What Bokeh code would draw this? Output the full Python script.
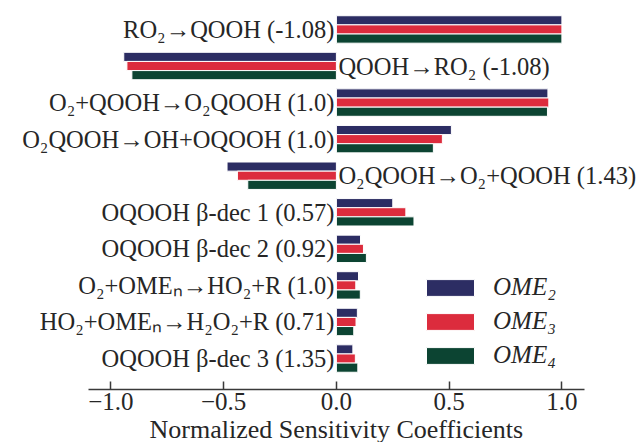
from bokeh.plotting import figure
from bokeh.models import Range1d, FixedTicker, ColumnDataSource, Legend, LegendItem, Title
from bokeh.core.properties import value
from bokeh.embed import file_html
from bokeh.resources import INLINE

# ---- data ----
reactions = [
    "RO₂→QOOH (-1.08)",
    "QOOH→RO₂ (-1.08)",
    "O₂+QOOH→O₂QOOH (1.0)",
    "O₂QOOH→OH+OQOOH (1.0)",
    "O₂QOOH→O₂+QOOH (1.43)",
    "OQOOH β-dec 1 (0.57)",
    "OQOOH β-dec 2 (0.92)",
    "O₂+OMEₙ→HO₂+R (1.0)",
    "HO₂+OMEₙ→H₂O₂+R (0.71)",
    "OQOOH β-dec 3 (1.35)",
]
ome2 = [1.0, -0.943, 0.938, 0.51, -0.485, 0.25, 0.107, 0.098, 0.093, 0.073]
ome3 = [1.0, -0.929, 0.942, 0.47, -0.439, 0.308, 0.12, 0.086, 0.087, 0.084]
ome4 = [1.0, -0.907, 0.936, 0.43, -0.393, 0.344, 0.133, 0.106, 0.077, 0.095]
series_names = ["OME₂", "OME₃", "OME₄"]
series_colors = ["#2c2d63", "#dc2c3d", "#0c4432"]
tick_values = [-1.0, -0.5, 0.0, 0.5, 1.0]
tick_labels = ["−1.0", "−0.5", "0.0", "0.5", "1.0"]
x_label = "Normalized Sensitivity Coefficients"

FONT = "Liberation Serif"
TEXT = "#262626"

p = figure(
    frame_width=644, frame_height=389,
    x_range=Range1d(-1.4896, 1.3663),
    y_range=Range1d(9.847, -0.792),
    y_axis_location=None,
    output_backend="svg", toolbar_location=None,
    min_border_left=0, min_border_right=0, min_border_top=0, min_border_bottom=0,
)
p.outline_line_color = None
p.xgrid.visible = False
p.ygrid.visible = False
p.background_fill_color = "white"

idx = list(range(len(reactions)))
offsets = [-0.25, 0.0, 0.25]
renderers = []
for vals, off, col in zip([ome2, ome3, ome4], offsets, series_colors):
    src = ColumnDataSource(dict(y=[i + off for i in idx], right=vals))
    r = p.hbar(y="y", left=0, right="right", height=0.25, source=src,
               fill_color=col, line_color="white", line_width=1)
    renderers.append(r)

# labels next to the zero line, on the opposite side of the bars
aligns = ["right" if v >= 0 else "left" for v in ome2]
xoffs = [-2 if v >= 0 else 2 for v in ome2]
lsrc = ColumnDataSource(dict(x=[0] * len(idx), y=idx, text=reactions,
                             align=aligns, xoff=xoffs))
p.text(x="x", y="y", text="text", source=lsrc, text_align="align",
       x_offset="xoff", text_baseline="middle",
       text_font=value(FONT), text_font_size="24.5px", text_color=TEXT)

ax = p.xaxis[0]
ax.bounds = (-1.1, 1.1)
ax.ticker = FixedTicker(ticks=tick_values)
ax.major_label_overrides = {v: l for v, l in zip(tick_values, tick_labels)}
ax.minor_tick_line_color = None
ax.major_tick_in = 8
ax.major_tick_out = 0
ax.major_tick_line_color = "#3a3a3a"
ax.major_tick_line_width = 1.5
ax.axis_line_color = "#3a3a3a"
ax.axis_line_width = 1.5
ax.major_label_standoff = 3
ax.major_label_text_font = FONT
ax.major_label_text_font_size = "25px"
ax.major_label_text_color = TEXT

# x-axis title, centred on x = 0 like the reference
xt = Title(text=x_label, align="left", offset=149, standoff=0,
           text_font=FONT, text_font_size="26px", text_font_style="normal",
           text_color=TEXT)
p.add_layout(xt, "below")

legend = Legend(
    items=[LegendItem(label=n, renderers=[r]) for n, r in zip(series_names, renderers)],
    location=(420, 20), padding=0, margin=0, spacing=6,
    glyph_width=60, glyph_height=21, label_standoff=13,
    label_text_font=FONT, label_text_font_size="25px",
    label_text_font_style="italic", label_text_color=TEXT,
    border_line_alpha=0, background_fill_alpha=0,
)
p.add_layout(legend, "center")

open("out.html", "w").write(file_html(p, INLINE))
